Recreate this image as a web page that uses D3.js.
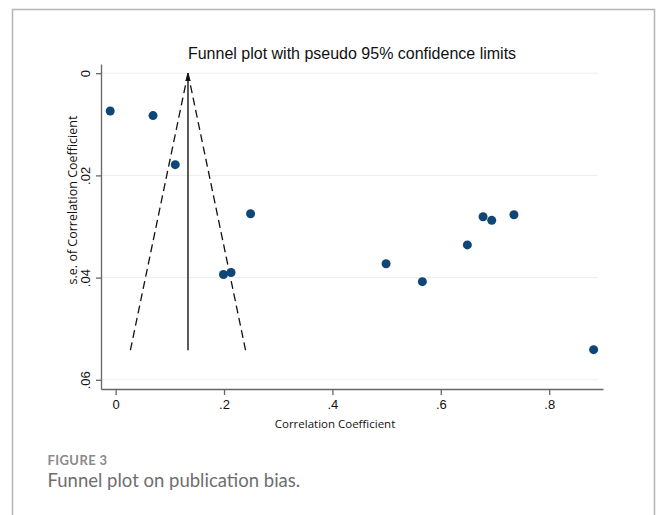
<!DOCTYPE html>
<html>
<head>
<meta charset="utf-8">
<script src="https://cdn.jsdelivr.net/npm/d3@7"></script>
<style>
  body { margin: 0; background: #fff; }
  svg { display: block; }
</style>
</head>
<body>
<div id="chart"></div>
<script>
// study estimates
var corrCoef = [-0.010, 0.069, 0.110, 0.249, 0.199, 0.213, 0.499, 0.566, 0.649, 0.678, 0.694, 0.735, 0.882];
var corrSE   = [0.0074, 0.0083, 0.0179, 0.0275, 0.0394, 0.0390, 0.0373, 0.0408, 0.0336, 0.0281, 0.0288, 0.0277, 0.0541];

// pooled estimate and widest s.e. of the funnel
var pooled = 0.1335;
var seMax = 0.0542;

var xTicks = [0, 0.2, 0.4, 0.6, 0.8];
var yTicks = [0, 0.02, 0.04, 0.06];

var width = 656, height = 515;

var svg = d3.select("#chart").append("svg")
    .attr("width", width)
    .attr("height", height);

// frame of the figure panel
svg.append("path")
    .attr("d", "M12.5,515 V9.5 H654.5 V515")
    .attr("fill", "none")
    .attr("stroke", "#b4b4b4")
    .attr("stroke-width", 1.5);

var x = d3.scaleLinear()
    .domain([-0.027, 0.8993])
    .range([101, 603]);

var y = d3.scaleLinear()
    .domain([-0.0018, 0.0618])
    .range([64, 389]);

var fmt = function(d) { return d === 0 ? "0" : d3.format(d < 0.1 ? ".2f" : ".1f")(d).replace(/^0\./, "."); };

// faint grid
svg.append("g")
    .selectAll("line")
    .data(yTicks)
    .enter()
    .append("line")
    .attr("x1", x.range()[0])
    .attr("x2", 598)
    .attr("y1", d => y(d))
    .attr("y2", d => y(d))
    .attr("stroke", "#eeeeee")
    .attr("stroke-width", 1);

// x axis
var xAxis = svg.append("g")
    .attr("transform", "translate(0," + y.range()[1] + ")")
    .call(d3.axisBottom(x).tickValues(xTicks).tickFormat(fmt).tickSize(6).tickSizeOuter(0).tickPadding(5));

xAxis.selectAll("text")
    .attr("font-family", "Liberation Sans, Arial, sans-serif")
    .attr("font-size", 13)
    .attr("fill", "#111");

// y axis
var yAxis = svg.append("g")
    .attr("transform", "translate(" + x.range()[0] + ",0)")
    .call(d3.axisLeft(y).tickValues(yTicks).tickFormat(fmt).tickSize(5).tickSizeOuter(0));

yAxis.selectAll("text")
    .attr("x", null)
    .attr("dy", null)
    .attr("transform", "translate(-11,0) rotate(-90)")
    .attr("text-anchor", "middle")
    .attr("font-family", "Liberation Sans, Arial, sans-serif")
    .attr("font-size", 13)
    .attr("fill", "#111");

svg.selectAll(".domain, .tick line")
    .attr("stroke", "#666")
    .attr("stroke-width", 1.3);

// funnel: pseudo 95% limits
var limits = [
    [[pooled - 1.96 * seMax, seMax], [pooled, 0]],
    [[pooled + 1.96 * seMax, seMax], [pooled, 0]]
];

var line = d3.line()
    .x(d => x(d[0]))
    .y(d => y(d[1]));

svg.append("g")
    .selectAll("path")
    .data(limits)
    .enter()
    .append("path")
    .attr("d", line)
    .attr("fill", "none")
    .attr("stroke", "#111")
    .attr("stroke-width", 1.3)
    .attr("stroke-dasharray", "8,4.5");

svg.append("defs").append("marker")
    .attr("id", "arrow")
    .attr("viewBox", "0 0 10 10")
    .attr("refX", 10)
    .attr("refY", 5)
    .attr("markerWidth", 8)
    .attr("markerHeight", 8)
    .attr("markerUnits", "userSpaceOnUse")
    .attr("orient", "auto")
    .append("path")
    .attr("d", "M0,1.5 L10,5 L0,8.5 Z")
    .attr("fill", "#111");

svg.append("path")
    .attr("d", line([[pooled, seMax], [pooled, 0]]))
    .attr("stroke", "#333")
    .attr("stroke-width", 1.6)
    .attr("marker-end", "url(#arrow)");

// studies
svg.append("g")
    .selectAll("circle")
    .data(corrCoef)
    .enter()
    .append("circle")
    .attr("cx", d => x(d))
    .attr("cy", (d, i) => y(corrSE[i]))
    .attr("r", 4.5)
    .attr("fill", "#0e4677");

// titles
svg.append("text")
    .attr("x", (x.range()[0] + x.range()[1]) / 2)
    .attr("y", 59)
    .attr("text-anchor", "middle")
    .attr("font-family", "Liberation Sans, Arial, sans-serif")
    .attr("font-size", 16)
    .attr("fill", "#111")
    .text("Funnel plot with pseudo 95% confidence limits");

svg.append("text")
    .attr("x", 335)
    .attr("y", 428)
    .attr("text-anchor", "middle")
    .attr("font-family", "Open Sans, sans-serif")
    .attr("font-size", 11.5)
    .attr("fill", "#111")
    .text("Correlation Coefficient");

svg.append("text")
    .attr("transform", "translate(77,200) rotate(-90)")
    .attr("text-anchor", "middle")
    .attr("font-family", "Open Sans, sans-serif")
    .attr("font-size", 12.5)
    .attr("fill", "#111")
    .text("s.e. of Correlation Coefficient");

// caption
svg.append("text")
    .attr("x", 47.5)
    .attr("y", 464.5)
    .attr("font-family", "Lato, sans-serif")
    .attr("font-weight", 700)
    .attr("font-size", 13)
    .attr("letter-spacing", 0.4)
    .attr("fill", "#8a8a8a")
    .text("FIGURE 3");

svg.append("text")
    .attr("x", 47.5)
    .attr("y", 487)
    .attr("font-family", "Lato, sans-serif")
    .attr("font-size", 18.5)
    .attr("fill", "#6e6e6e")
    .text("Funnel plot on publication bias.");
</script>
</body>
</html>
